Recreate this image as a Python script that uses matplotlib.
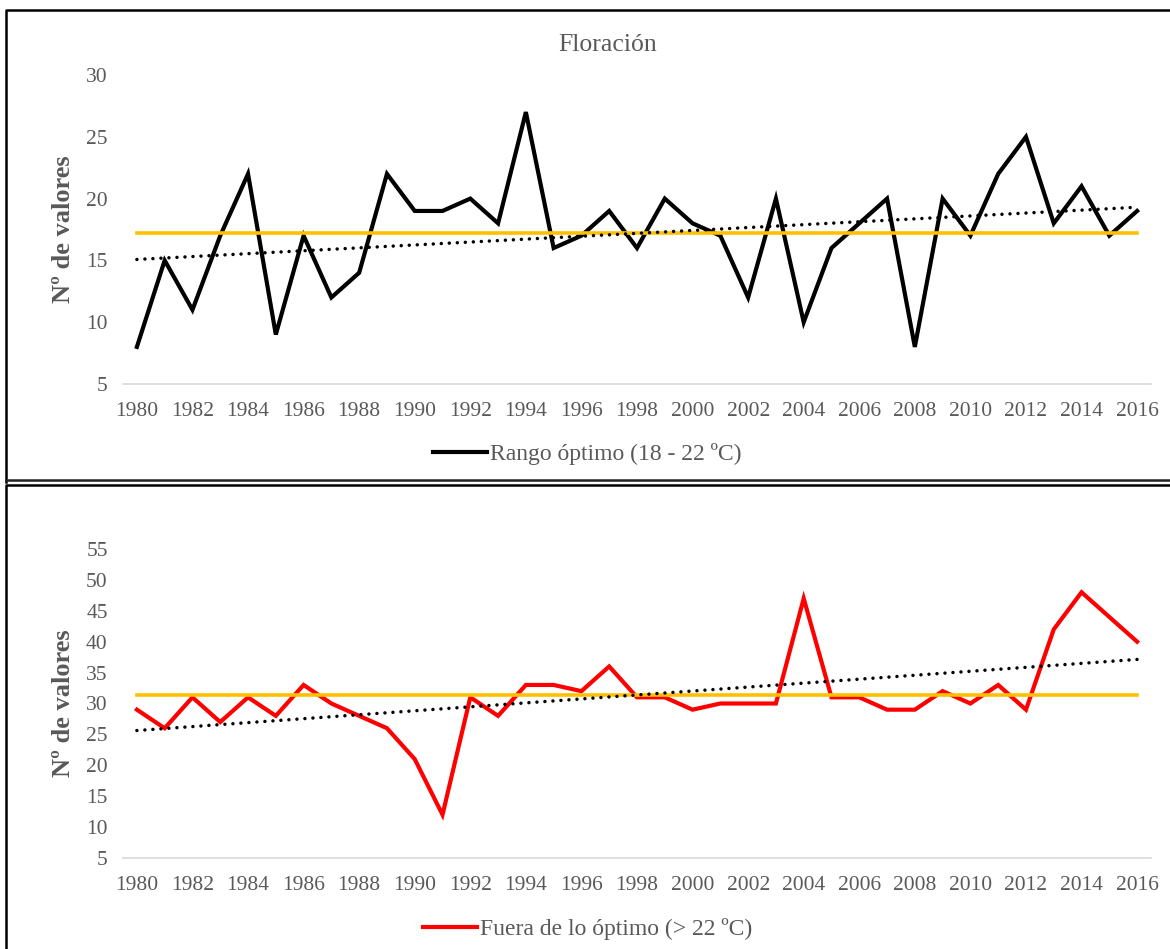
import numpy as np
import matplotlib
matplotlib.use("Agg")
import matplotlib.pyplot as plt
from matplotlib.lines import Line2D

plt.rcParams['font.family'] = ['Liberation Serif', 'DejaVu Serif']

# data
years = list(range(1980, 2017))
optimo = [8, 15, 11, 17, 22, 9, 17, 12, 14, 22,
          19, 19, 20, 18, 27, 16, 17, 19, 16, 20,
          18, 17, 12, 20, 10, 16, 18, 20, 8, 20,
          17, 22, 25, 18, 21, 17, 19]
fuera = [29, 26, 31, 27, 31, 28, 33, 30, 28, 26,
         21, 12, 31, 28, 33, 33, 32, 36, 31, 31,
         29, 30, 30, 30, 47, 31, 31, 29, 29, 32,
         30, 33, 29, 42, 48, 44, 40]
xticks = list(range(1980, 2017, 2))
yticks_top = [5, 10, 15, 20, 25, 30]
yticks_bot = [5, 10, 15, 20, 25, 30, 35, 40, 45, 50, 55]

title = "Floración"
ylabel = "Nº de valores"
label_top = "Rango óptimo (18 - 22 ºC)"
label_bot = "Fuera de lo óptimo (> 22 ºC)"

GREY = "#595959"
W, H = 1170, 949
fig = plt.figure(figsize=(W / 100, H / 100), dpi=100)

# panel frames
def fx(px):
    return px / W
def fy(py):
    return 1 - py / H

for xs, ys, c in [
    ([6, 6, 1175], [482, 10, 10], "black"),
    ([6, 1175], [480, 480], "#222222"),
    ([6, 6, 1175], [955, 485, 485], "black"),
]:
    fig.add_artist(Line2D([fx(v) for v in xs], [fy(v) for v in ys],
                          color=c, lw=1.8, transform=fig.transFigure))

left = fx(123)
width = fx(1151) - left
ax1 = fig.add_axes([left, fy(384), width, fy(75) - fy(384)])
ax2 = fig.add_axes([left, fy(858), width, fy(549) - fy(858)])


def draw(ax, vals, color, yticks, legend_label, legend_y):
    x = np.array(years)
    y = np.array(vals, dtype=float)
    line, = ax.plot(x, y, color=color, lw=3, solid_joinstyle="miter", zorder=3)
    ax.plot([x[0], x[-1]], [y.mean(), y.mean()], color="#FFC000", lw=2.6, zorder=4)
    k, b = np.polyfit(x, y, 1)
    ax.plot(x, k * x + b, color="black", lw=2.5, linestyle=(0, (0.01, 2.3)),
            dash_capstyle="round", zorder=5)
    ax.set_xlim(1979.5, 2016.5)
    ax.set_ylim(yticks[0], yticks[-1])
    ax.set_xticks(xticks)
    ax.set_yticks(yticks)
    ax.tick_params(length=0, labelsize=15.5, labelcolor=GREY)
    ax.tick_params(axis="y", pad=11)
    ax.tick_params(axis="x", pad=13)
    for s in ["top", "right", "left"]:
        ax.spines[s].set_visible(False)
    ax.spines["bottom"].set_color("#D9D9D9")
    ax.spines["bottom"].set_linewidth(1.2)
    ax.set_ylabel(ylabel, fontsize=19, fontweight="bold", color=GREY)
    ax.yaxis.set_label_coords(-0.047, 0.5)
    fig.legend([line], [legend_label], loc="center", bbox_to_anchor=(0.502, legend_y),
               frameon=False, fontsize=17, labelcolor=GREY, handlelength=2.3,
               handletextpad=0.12, borderpad=0, borderaxespad=0)


draw(ax1, optimo, "black", yticks_top, label_top, fy(454))
draw(ax2, fuera, "#FF0000", yticks_bot, label_bot, fy(929))

fig.text(fx(608), fy(45), title, ha="center", va="center", fontsize=18.5, color=GREY)

fig.savefig("out.png", dpi=100)
